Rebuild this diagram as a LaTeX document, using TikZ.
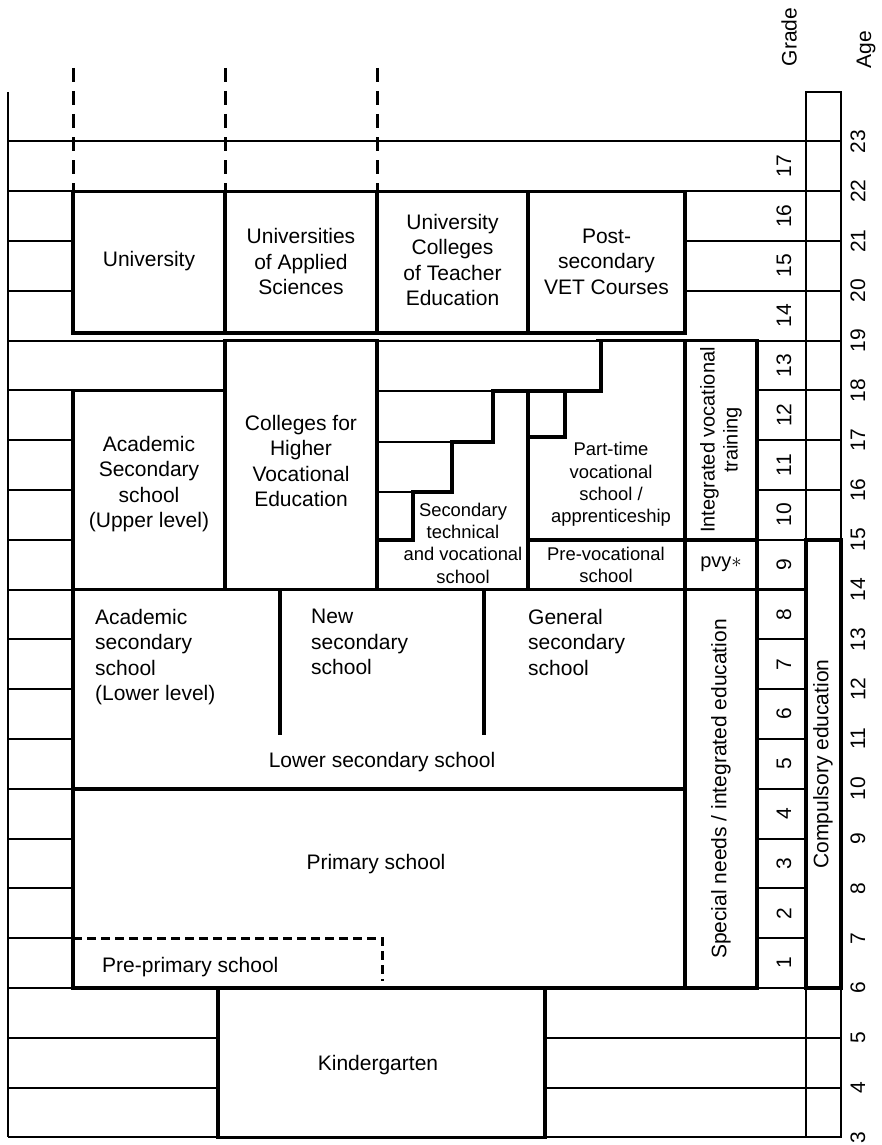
\documentclass[tikz,border=0pt]{standalone}
\usepackage{fontspec}
\setmainfont{Liberation Sans}
\newcommand\fa{\fontsize{21}{25.5}\selectfont}
\newcommand\fb{\fontsize{18.4}{22.3}\selectfont}
\newcommand\fc{\fontsize{20}{23}\selectfont}
\newcommand\ag[1]{(988-(#1-6)*49.8)}
\def\XA{8}
\def\XB{73}
\def\XC{225}
\def\XD{377}
\def\XE{528}
\def\XF{685}
\def\XG{757}
\def\XH{806}
\def\XI{841}
\begin{document}
\begin{tikzpicture}[x=1pt,y=-1pt,line join=miter,
  thn/.style={line width=1.9pt},
  med/.style={line width=2.4pt},
  thk/.style={line width=3.4pt},
  dsh/.style={line width=3pt,dash pattern=on 14pt off 9pt},
  dsh2/.style={line width=3pt,dash pattern=on 9pt off 5pt},
  lbl/.style={font=\fa,align=center,inner sep=0pt},
  lbll/.style={font=\fa,align=left,inner sep=0pt,anchor=north west},
  sml/.style={font=\fb,align=center,inner sep=0pt},
  rot/.style={font=\fc,align=center,inner sep=0pt,rotate=90},
  num/.style={font=\fa,inner sep=0pt,rotate=90}]
\useasboundingbox (0,0) rectangle (882,1145);
% ---------- thin grid ----------
\draw[thn] (\XA,92) -- (\XA,{\ag{3}});
\draw[thn] (\XH,92) rectangle (\XI,{\ag{3}});
\foreach \a in {23,22,19,6,3} \draw[thn] (\XA,{\ag{\a}}) -- (\XI,{\ag{\a}});
\foreach \a in {21,20} {\draw[thn] (\XA,{\ag{\a}}) -- (\XB,{\ag{\a}}); \draw[thn] (\XF,{\ag{\a}}) -- (\XI,{\ag{\a}});}
\foreach \a in {18,17,16} {\draw[thn] (\XA,{\ag{\a}}) -- (\XB,{\ag{\a}}); \draw[thn] (\XG,{\ag{\a}}) -- (\XI,{\ag{\a}});}
\foreach \a in {15,14,...,7} {\draw[thn] (\XA,{\ag{\a}}) -- (\XB,{\ag{\a}}); \draw[thn] (\XG,{\ag{\a}}) -- (\XH,{\ag{\a}});}
\foreach \a in {5,4} {\draw[thn] (\XA,{\ag{\a}}) -- (218,{\ag{\a}}); \draw[thn] (545,{\ag{\a}}) -- (\XI,{\ag{\a}});}
% ---------- dashed top ----------
\foreach \x in {\XB,\XC,\XD} \draw[dsh] (\x,68) -- (\x,{\ag{22}});
% ---------- tertiary ----------
\foreach \l/\r in {\XB/\XC,\XC/\XD,\XD/\XE,\XE/\XF} \draw[thk] (\l,{\ag{22}}) rectangle (\r,333);
\node[lbl] (uni) at ({(\XB+\XC)/2},261.5) {University};
\node[lbl] (uas) at ({(\XC+\XD)/2},261.5) {Universities\\of Applied\\Sciences};
\node[lbl] (ucte) at ({(\XD+\XE)/2},260) {University\\Colleges\\of Teacher\\Education};
\node[lbl] (psv) at ({(\XE+\XF)/2},261.5) {Post-\\secondary\\VET Courses};
% ---------- upper secondary ----------
\draw[thk] (\XB,{\ag{18}}) rectangle (\XC,{\ag{14}});
\node[lbl] (ahs) at ({(\XB+\XC)/2},484) {Academic\\Secondary\\school\\(Upper level)};
\draw[thk] (\XC,{\ag{19}}) rectangle (\XD,{\ag{14}});
\node[lbl] (bhs) at ({(\XC+\XD)/2},461) {Colleges for\\Higher\\Vocational\\Education};
\draw[thn] (\XD,391) -- (493,391);
\draw[thn] (\XD,442) -- (452,442);
\draw[thn] (\XD,492) -- (413,492);
\draw[thk] (601,{\ag{19}}) -- (601,391) -- (493,391) -- (493,442) -- (452,442) -- (452,492) -- (413,492) -- (413,{\ag{15}}) -- (\XD,{\ag{15}});
\draw[thk] (596,{\ag{19}}) -- (\XF,{\ag{19}});
\draw[thk] (\XD,{\ag{14}}) -- (\XE,{\ag{14}});
\draw[thk] (\XE,391) -- (\XE,{\ag{14}});
\draw[thk] (\XE,391) -- (565,391) -- (565,437) -- (\XE,437);
\node[sml] (bms) at (463,543) {Secondary\\technical\\and vocational\\school};
\node[sml] (bs) at (611,484.5) {Part-time\\vocational\\school /\\apprenticeship};
\draw[thk] (\XE,{\ag{15}}) rectangle (\XF,{\ag{14}});
\node[sml] (pts) at (606,565) {Pre-vocational\\school};
\draw[thk] (\XF,{\ag{19}}) rectangle (\XG,{\ag{15}});
\node[rot] (ivt) at (721,440) {Integrated vocational\\training};
\draw[thk] (\XF,{\ag{15}}) rectangle (\XG,{\ag{14}});
\node[font=\fc,inner sep=0pt] (pvy) at (721,564) {pvy$\ast$};
\draw[thk] (\XF,{\ag{14}}) rectangle (\XG,{\ag{6}});
\node[rot,font=\fa] (sne) at (721,789) {Special needs / integrated education};
% ---------- grade column ----------
\draw[med] (\XG,{\ag{19}}) -- (\XG,{\ag{6}});
\draw[med] (\XH,{\ag{19}}) -- (\XH,{\ag{6}});
\draw[thk] (\XG,{\ag{14}}) -- (\XH,{\ag{14}});
\draw[thk] (\XH,{\ag{15}}) rectangle (\XI,{\ag{6}});
\node[rot,font=\fa] (comp) at (823,764) {Compulsory education};
% ---------- lower secondary ----------
\draw[thk] (\XB,{\ag{14}}) rectangle (\XF,{\ag{10}});
\draw[thk] (280,{\ag{14}}) -- (280,735);
\draw[thk] (484,{\ag{14}}) -- (484,735);
\node[lbll] (ahsl) at (95,609) {Academic\\secondary\\school\\(Lower level)};
\node[lbll] (nms) at (311,609) {New\\secondary\\school};
\node[lbll] (hs) at (528,609) {General\\secondary\\school};
\node[lbl] (lss) at (382,762) {Lower secondary school};
% ---------- primary ----------
\draw[thk] (\XB,{\ag{10}}) rectangle (\XF,{\ag{6}});
\node[lbl] (vs) at (376,864) {Primary school};
\draw[dsh2] (\XB,{\ag{7}}) -- (382,{\ag{7}}) -- (382,981);
\node[lbl,anchor=west] (pre) at (102,967) {Pre-primary school};
% ---------- kindergarten ----------
\draw[thk] (218,{\ag{6}}) rectangle (545,{\ag{3}});
\node[lbl] (kg) at (378,1065) {Kindergarten};
% ---------- labels ----------
\foreach \a in {3,...,23} \node[num] (age\a) at (858,{\ag{\a}}) {\a};
\foreach \g in {1,...,17} \node[num] (gr\g) at (784,{\ag{\g+5.5}}) {\g};
\node[num] (gradet) at (789,37) {Grade};
\node[num] (aget) at (866,50) {Age};
\end{tikzpicture}
\end{document}
